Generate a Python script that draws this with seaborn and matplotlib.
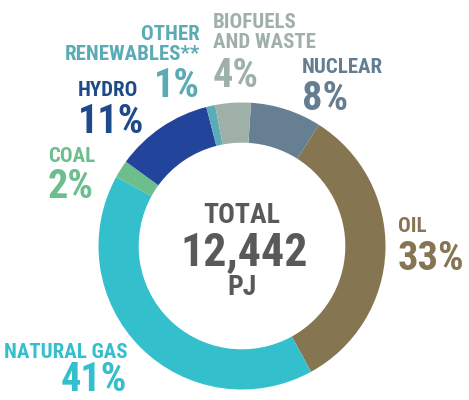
import matplotlib
matplotlib.use('Agg')
import matplotlib.pyplot as plt
from matplotlib import font_manager
import seaborn as sns

# data
sources = ['NUCLEAR', 'OIL', 'NATURAL GAS', 'COAL', 'HYDRO', 'OTHER\nRENEWABLES**', 'BIOFUELS\nAND WASTE']
shares = [8, 33, 41, 2, 11, 1, 4]
total_label = '12,442'
total_unit = 'PJ'

# styles
ring_colors = ['#677f93', '#857551', '#34bfcc', '#6cbf8c', '#22449a', '#5aadb8', '#9fb0a9']
text_colors = ['#647d91', '#857551', '#34bfcc', '#6cbf8c', '#1f4a8a', '#5aabb5', '#9fb0aa']

sns.set_theme(style='white')

# pick a narrow bold font if there is one
font = 'DejaVu Sans'
for f in ['Liberation Sans Narrow', 'DejaVu Sans Condensed', 'Roboto Condensed', 'Liberation Sans']:
    try:
        font_manager.findfont(font_manager.FontProperties(family=f), fallback_to_default=False)
        font = f
        break
    except Exception:
        pass
plt.rcParams['font.family'] = [font, 'DejaVu Sans']

W, H = 469, 400
fig = plt.figure(figsize=(W / 100, H / 100), dpi=100)

# donut: center (242, 246) px, outer radius 143.5 px
cx, cy, r = 242, 246, 143.5
ax = fig.add_axes([(cx - r) / W, (H - cy - r) / H, 2 * r / W, 2 * r / H])
ax.pie(shares, colors=ring_colors, startangle=86.4, counterclock=False,
       radius=1, wedgeprops=dict(width=0.28, edgecolor='none'))
ax.set_xlim(-1, 1)
ax.set_ylim(-1, 1)
ax.set_aspect('equal')
ax.axis('off')


def put(x, y, s, size, color, ha='left'):
    fig.text(x / W, 1 - y / H, s, fontsize=size, color=color, ha=ha, va='baseline',
             fontweight='bold', linespacing=1.05)


# label positions in px: (x, name baseline, pct baseline, ha)
label_pos = [
    (302, 73, 110, 'left'),
    (398, 232, 270, 'left'),
    (127, 358, 391, 'right'),
    (48, 162, 198, 'left'),
    (78, 96, 133, 'left'),
    (200, 60, 97, 'right'),
    (213, 48, 87, 'left'),
]

for name, val, col, (x, yn, yp, ha) in zip(sources, shares, text_colors, label_pos):
    put(x, yn, name, 15, col, ha)
    put(x, yp, f'{val}%', 29, col, ha)

put(cx, 223, 'TOTAL', 20, '#58595b', 'center')
put(cx + 2, 265, total_label, 33, '#58595b', 'center')
put(cx, 295, total_unit, 20, '#58595b', 'center')

fig.savefig('out.png', dpi=100)
